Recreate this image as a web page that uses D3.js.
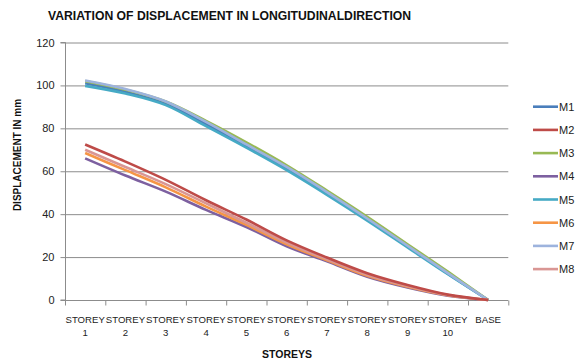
<!DOCTYPE html>
<html><head><meta charset="utf-8">
<script src="https://cdn.jsdelivr.net/npm/d3@7"></script>
<style>body{margin:0;background:#fff}svg{display:block;font-family:"Liberation Sans",Arial,sans-serif}</style>
</head><body><svg id="c" width="587" height="363"></svg>
<script>
const categories = ["STOREY 1","STOREY 2","STOREY 3","STOREY 4","STOREY 5","STOREY 6","STOREY 7","STOREY 8","STOREY 9","STOREY 10","BASE"];
const seriesNames = ["M1","M2","M3","M4","M5","M6","M7","M8"];
const M1 = [101.0, 97.0, 91.5, 82.0, 72.0, 61.3, 49.7, 37.5, 25.0, 12.3, 0];
const M2 = [72.5, 64.5, 56.0, 46.5, 37.5, 27.8, 19.8, 12.5, 7.0, 2.5, 0];
const M3 = [102.0, 98.0, 92.5, 83.5, 73.5, 62.8, 51.0, 38.8, 26.0, 13.2, 0];
const M4 = [66.0, 58.0, 50.5, 42.0, 34.0, 25.0, 18.0, 10.8, 5.8, 2.0, 0];
const M5 = [99.8, 96.2, 90.8, 81.0, 71.0, 60.5, 49.0, 37.0, 24.5, 12.0, 0];
const M6 = [68.5, 60.5, 52.5, 43.5, 35.0, 26.0, 18.5, 11.3, 6.2, 2.2, 0];
const M7 = [102.3, 98.3, 92.5, 83.0, 72.5, 62.0, 50.3, 38.0, 25.3, 12.5, 0];
const M8 = [70.0, 62.0, 54.0, 45.0, 36.0, 26.8, 19.0, 11.8, 6.5, 2.3, 0];
const yTicks = [0, 20, 40, 60, 80, 100, 120];
const colors = ["#4A7EBB","#BE4B48","#98B954","#7D60A0","#46AAC5","#F69545","#9DB3DD","#D99694"];
const values = [M1,M2,M3,M4,M5,M6,M7,M8];
const drawOrder = [0,4,2,6,3,5,7,1];

const svg = d3.select("#c");
const pL = 65, pR = 508.3, pT = 42.5, pB = 300;
const x = d3.scaleBand().domain(categories).range([pL, pR]);
const y = d3.scaleLinear().domain([0, 120]).range([pB, pT]);

svg.append("g").selectAll("line").data(yTicks.filter(d => d > 0)).join("line")
  .attr("x1", pL).attr("x2", pR)
  .attr("y1", d => y(d) + 0.5).attr("y2", d => y(d) + 0.5)
  .attr("stroke", "#8c8c8c").attr("stroke-width", 1);

const ya = svg.append("g").attr("transform", `translate(${pL + 0.5},0)`)
  .call(d3.axisLeft(y).tickValues(yTicks).tickSize(5).tickPadding(6));
ya.select(".domain").attr("stroke", "#8c8c8c").attr("d", `M-5,${pT}H0V${pB}H-5`);
ya.selectAll(".tick line").attr("stroke", "#8c8c8c");
ya.selectAll(".tick text").attr("font-size", 11).attr("fill", "#222")
  .attr("font-family", "Liberation Sans, Arial, sans-serif");

const xa = svg.append("g").attr("transform", `translate(0,${pB + 0.5})`);
xa.append("line").attr("x1", pL).attr("x2", pR).attr("stroke", "#8c8c8c");
const bounds = categories.map(c => x(c)).concat([pR]);
xa.selectAll("line.tk").data(bounds).join("line").attr("class", "tk")
  .attr("x1", d => d + 0.5).attr("x2", d => d + 0.5).attr("y1", 0).attr("y2", 5)
  .attr("stroke", "#8c8c8c");
const labs = xa.selectAll("text").data(categories).join("text")
  .attr("x", d => x(d) + x.bandwidth() / 2)
  .attr("text-anchor", "middle").attr("font-size", 9.6).attr("fill", "#222");
labs.each(function(d) {
  const parts = d.split(" ");
  const t = d3.select(this);
  parts.forEach((p, i) => t.append("tspan").attr("x", x(d) + x.bandwidth() / 2)
    .attr("y", 22 + i * 13).text(p));
});

const line = d3.line()
  .x((d, i) => x(categories[i]) + x.bandwidth() / 2)
  .y(d => y(d))
  .curve(d3.curveCardinal.tension(0));
svg.append("g").selectAll("path").data(drawOrder).join("path")
  .attr("d", k => line(values[k]))
  .attr("fill", "none").attr("stroke", k => colors[k])
  .attr("stroke-width", 2.6).attr("stroke-linejoin", "round");

const lg = svg.append("g");
seriesNames.forEach((n, i) => {
  const ly = 106.7 + i * 23.2;
  lg.append("line").attr("x1", 533).attr("x2", 558).attr("y1", ly).attr("y2", ly)
    .attr("stroke", colors[i]).attr("stroke-width", 2.6);
  lg.append("text").attr("x", 559).attr("y", ly + 4).attr("font-size", 11)
    .attr("fill", "#222").text(n);
});

svg.append("text").attr("x", 48).attr("y", 19.5).attr("font-size", 12.2)
  .attr("font-weight", "bold").attr("fill", "#111")
  .text("VARIATION OF DISPLACEMENT IN LONGITUDINALDIRECTION");
svg.append("text").attr("transform", "translate(21,155) rotate(-90)")
  .attr("text-anchor", "middle").attr("font-size", 10).attr("font-weight", "bold")
  .attr("fill", "#111").text("DISPLACEMENT IN mm");
svg.append("text").attr("x", 287).attr("y", 358).attr("text-anchor", "middle")
  .attr("font-size", 10.5).attr("font-weight", "bold").attr("fill", "#111").text("STOREYS");
</script></body></html>
